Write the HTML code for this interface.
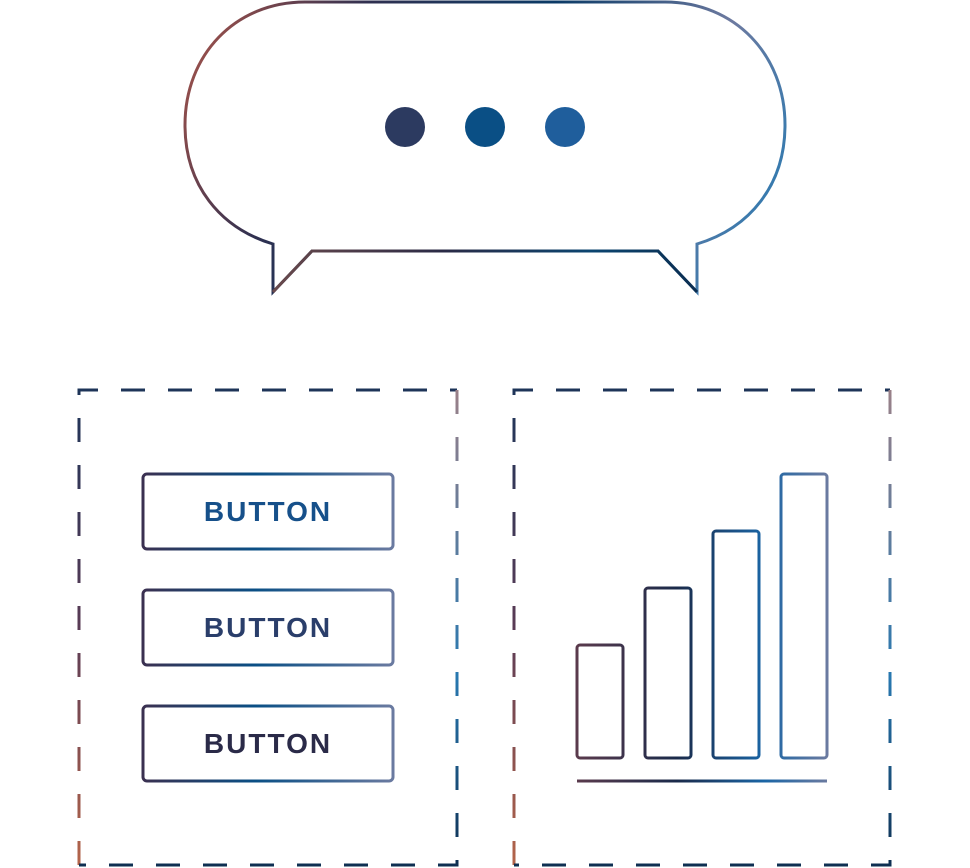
<!DOCTYPE html>
<html><head><style>html,body{margin:0;padding:0;background:#fff;width:970px;height:868px;overflow:hidden}</style></head>
<body>
<svg width="970" height="868" viewBox="0 0 970 868" xmlns="http://www.w3.org/2000/svg">
<defs>
<linearGradient id="bub" x1="185" y1="0" x2="785" y2="292" gradientUnits="userSpaceOnUse">
<stop offset="0" stop-color="#b0574a"/><stop offset="0.25" stop-color="#2f3050"/><stop offset="0.5" stop-color="#0b3a66"/><stop offset="0.75" stop-color="#6d7aa0"/><stop offset="1" stop-color="#1b7ab5"/></linearGradient>
<linearGradient id="bubb" x1="273" y1="0" x2="697" y2="0" gradientUnits="userSpaceOnUse">
<stop offset="0" stop-color="#6a4a4c"/><stop offset="0.4" stop-color="#2a2a45"/><stop offset="0.75" stop-color="#0b4570"/><stop offset="1" stop-color="#0b2d50"/></linearGradient>
<linearGradient id="box" x1="0" y1="389" x2="0" y2="868" gradientUnits="userSpaceOnUse">
<stop offset="0" stop-color="#1d3458"/><stop offset="0.5" stop-color="#5a3b55"/><stop offset="1" stop-color="#b5654a"/></linearGradient>
<linearGradient id="boxr" x1="0" y1="389" x2="0" y2="868" gradientUnits="userSpaceOnUse">
<stop offset="0" stop-color="#9a8088"/><stop offset="0.6" stop-color="#2878b0"/><stop offset="1" stop-color="#0e2e50"/></linearGradient>
<linearGradient id="btn" x1="0" y1="0" x2="1" y2="0">
<stop offset="0" stop-color="#3a3050"/><stop offset="0.45" stop-color="#0a4f85"/><stop offset="1" stop-color="#6a7aa0"/></linearGradient>
<linearGradient id="bar" x1="577" y1="0" x2="827" y2="0" gradientUnits="userSpaceOnUse">
<stop offset="0" stop-color="#5a3a4c"/><stop offset="0.4" stop-color="#1a2a4a"/><stop offset="0.75" stop-color="#1a65a5"/><stop offset="1" stop-color="#6a7aa0"/></linearGradient>
</defs>
<path d="M273,244 C220,228 185,185 185,125 C185,55 235,2 305,2 L665,2 C735,2 785,55 785,125 C785,185 750,228 697,244 L697,292 L658,251 L312,251 L273,292 Z" fill="none" stroke="url(#bub)" stroke-width="3"/>
<path d="M273,292 L312,251 L658,251 L697,292" fill="none" stroke="url(#bubb)" stroke-width="3"/>
<circle cx="405" cy="127" r="20" fill="#2c3a60"/>
<circle cx="485" cy="127" r="20" fill="#0a4f85"/>
<circle cx="565" cy="127" r="20" fill="#1f5e9c"/>
<g fill="none" stroke-width="3" stroke-dasharray="24 23">
<path d="M79,865 L79,390 L457,390" stroke="url(#box)"/>
<path d="M457,390 L457,865 L79,865" stroke="url(#boxr)"/>
<path d="M514,865 L514,390 L890,390" stroke="url(#box)"/>
<path d="M890,390 L890,865 L514,865" stroke="url(#boxr)"/>
</g>
<g fill="none" stroke="url(#btn)" stroke-width="3">
<rect x="143" y="474" width="250" height="75" rx="4"/>
<rect x="143" y="590" width="250" height="75" rx="4"/>
<rect x="143" y="706" width="250" height="75" rx="4"/>
</g>
<g font-family="Liberation Sans, sans-serif" font-weight="bold" font-size="28" text-anchor="middle" letter-spacing="2">
<text x="268" y="521" fill="#16508a">BUTTON</text>
<text x="268" y="637" fill="#2a3e6a">BUTTON</text>
<text x="268" y="753" fill="#2a2a48">BUTTON</text>
</g>
<g fill="none" stroke="url(#bar)" stroke-width="3">
<rect x="577" y="645" width="46" height="113" rx="3"/>
<rect x="645" y="588" width="46" height="170" rx="3"/>
<rect x="713" y="531" width="46" height="227" rx="3"/>
<rect x="781" y="474" width="46" height="284" rx="3"/>
<line x1="577" y1="781" x2="827" y2="781"/>
</g>
</svg>
</body></html>
